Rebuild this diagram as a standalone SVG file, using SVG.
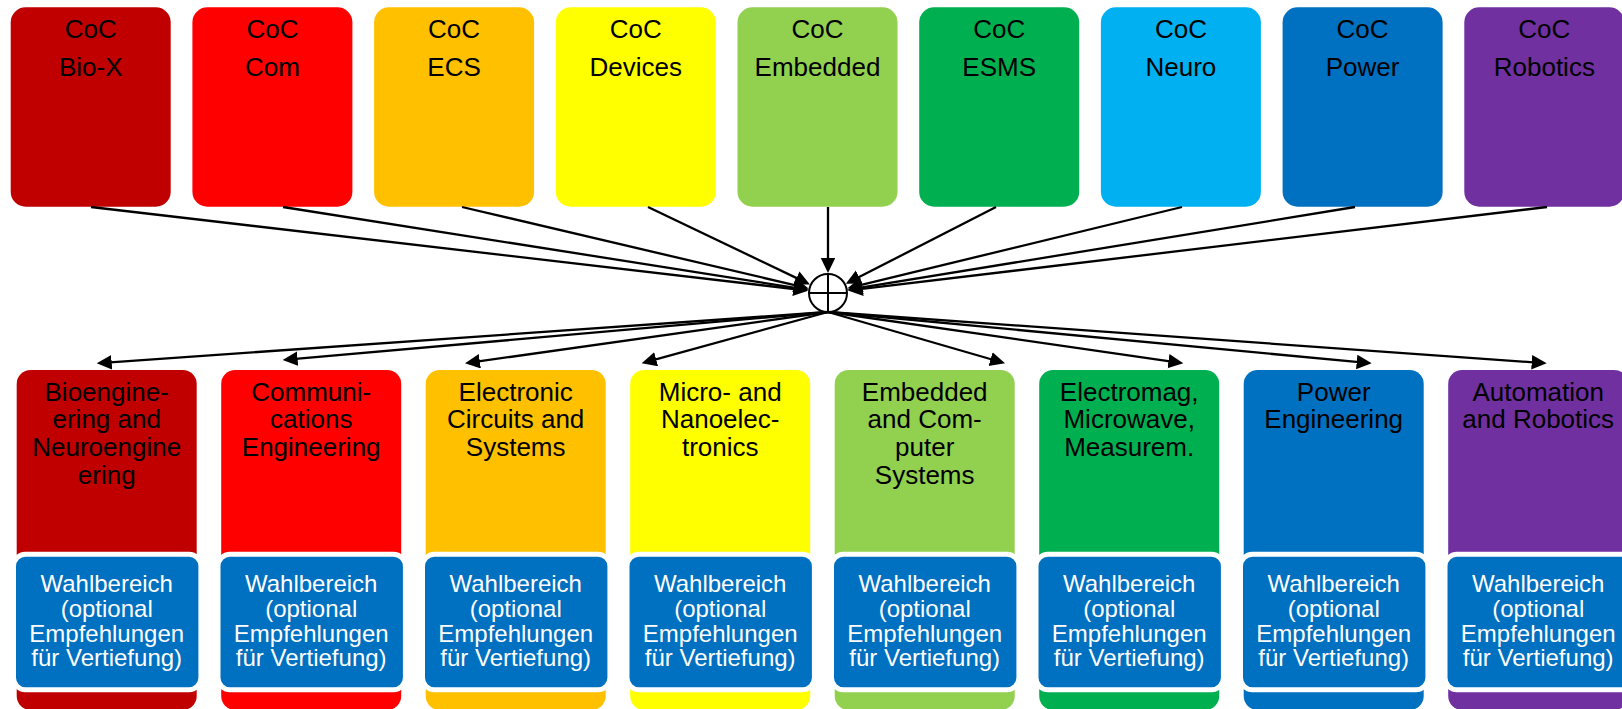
<svg xmlns="http://www.w3.org/2000/svg" width="1622" height="709" viewBox="0 0 1622 709">
<style>
.t{font-family:"Liberation Sans",Arial,sans-serif;font-size:26px;fill:#000;text-anchor:middle}
.w{font-family:"Liberation Sans",Arial,sans-serif;font-size:24px;fill:#fff;text-anchor:middle}
.c{stroke:#000;stroke-width:2.3;fill:none;marker-end:url(#ah)}
.wb{fill:#0070C0;stroke:#fff;stroke-width:5}
</style>
<defs>
<marker id="ah" markerUnits="userSpaceOnUse" markerWidth="16" markerHeight="16" refX="5" refY="7.25" orient="auto">
<path d="M0,0 L15,7.25 L0,14.5 z" fill="#000"/>
</marker>
</defs>
<rect width="1622" height="709" fill="#fff"/>

<g id="coc-biox"><rect x="10.7" y="7.3" width="160" height="199.4" rx="15" fill="#C00000"/><text class="t" x="90.7" y="38.3">CoC</text><text class="t" x="90.7" y="76">Bio-X</text></g>
<g id="coc-com"><rect x="192.4" y="7.3" width="160" height="199.4" rx="15" fill="#FF0000"/><text class="t" x="272.4" y="38.3">CoC</text><text class="t" x="272.4" y="76">Com</text></g>
<g id="coc-ecs"><rect x="374.1" y="7.3" width="160" height="199.4" rx="15" fill="#FFC000"/><text class="t" x="454.1" y="38.3">CoC</text><text class="t" x="454.1" y="76">ECS</text></g>
<g id="coc-devices"><rect x="555.8" y="7.3" width="160" height="199.4" rx="15" fill="#FFFF00"/><text class="t" x="635.8" y="38.3">CoC</text><text class="t" x="635.8" y="76">Devices</text></g>
<g id="coc-embedded"><rect x="737.5" y="7.3" width="160" height="199.4" rx="15" fill="#92D050"/><text class="t" x="817.5" y="38.3">CoC</text><text class="t" x="817.5" y="76">Embedded</text></g>
<g id="coc-esms"><rect x="919.2" y="7.3" width="160" height="199.4" rx="15" fill="#00B050"/><text class="t" x="999.2" y="38.3">CoC</text><text class="t" x="999.2" y="76">ESMS</text></g>
<g id="coc-neuro"><rect x="1100.9" y="7.3" width="160" height="199.4" rx="15" fill="#00B0F0"/><text class="t" x="1180.9" y="38.3">CoC</text><text class="t" x="1180.9" y="76">Neuro</text></g>
<g id="coc-power"><rect x="1282.6" y="7.3" width="160" height="199.4" rx="15" fill="#0070C0"/><text class="t" x="1362.6" y="38.3">CoC</text><text class="t" x="1362.6" y="76">Power</text></g>
<g id="coc-robotics"><rect x="1464.3" y="7.3" width="160" height="199.4" rx="15" fill="#7030A0"/><text class="t" x="1544.3" y="38.3">CoC</text><text class="t" x="1544.3" y="76">Robotics</text></g>

<g id="connectors">
<line class="c" x1="91" y1="207" x2="798.2" y2="289.5"/>
<line class="c" x1="283" y1="207" x2="798.4" y2="288.3"/>
<line class="c" x1="462" y1="207" x2="798.8" y2="286.1"/>
<line class="c" x1="648" y1="207" x2="800.9" y2="280.1"/>
<line class="c" x1="828" y1="207" x2="828" y2="263"/>
<line class="c" x1="996" y1="207" x2="854.7" y2="279.3"/>
<line class="c" x1="1182" y1="207" x2="857.2" y2="285.9"/>
<line class="c" x1="1355" y1="207" x2="857.6" y2="288.2"/>
<line class="c" x1="1547" y1="207" x2="857.8" y2="289.4"/>
<line class="c" x1="828" y1="312" x2="106.7" y2="362.6"/>
<line class="c" x1="828" y1="312" x2="292.6" y2="359.1"/>
<line class="c" x1="828" y1="312" x2="474.9" y2="361.9"/>
<line class="c" x1="828" y1="312" x2="651.3" y2="360.6"/>
<line class="c" x1="828" y1="312" x2="995.4" y2="360.5"/>
<line class="c" x1="828" y1="312" x2="1173.4" y2="361.9"/>
<line class="c" x1="828" y1="312" x2="1361.7" y2="362.4"/>
<line class="c" x1="828" y1="312" x2="1536.7" y2="362.6"/>
</g>

<g id="sum">
<circle cx="828" cy="293" r="19" fill="#fff" stroke="#000" stroke-width="2"/>
<line x1="828" y1="274" x2="828" y2="312" stroke="#000" stroke-width="2"/>
<line x1="809" y1="293" x2="847" y2="293" stroke="#000" stroke-width="2"/>
</g>

<g id="bioeng"><rect x="16.7" y="370" width="180" height="340" rx="14" fill="#C00000"/>
<text class="t" x="106.7" y="400.7">Bioengine-</text><text class="t" x="106.7" y="428.3">ering and</text><text class="t" x="106.7" y="456">Neuroengine</text><text class="t" x="106.7" y="483.5">ering</text>
<rect class="wb" x="13.5" y="554.2" width="187.4" height="135.6" rx="12"/>
<text class="w" x="106.7" y="591.7">Wahlbereich</text><text class="w" x="106.7" y="616.7">(optional</text><text class="w" x="106.7" y="642.3">Empfehlungen</text><text class="w" x="106.7" y="666">für Vertiefung)</text></g>

<g id="comm"><rect x="221.2" y="370" width="180" height="340" rx="14" fill="#FF0000"/>
<text class="t" x="311.2" y="400.7">Communi-</text><text class="t" x="311.2" y="428.3">cations</text><text class="t" x="311.2" y="456">Engineering</text>
<rect class="wb" x="218" y="554.2" width="187.4" height="135.6" rx="12"/>
<text class="w" x="311.2" y="591.7">Wahlbereich</text><text class="w" x="311.2" y="616.7">(optional</text><text class="w" x="311.2" y="642.3">Empfehlungen</text><text class="w" x="311.2" y="666">für Vertiefung)</text></g>

<g id="ecs"><rect x="425.7" y="370" width="180" height="340" rx="14" fill="#FFC000"/>
<text class="t" x="515.7" y="400.7">Electronic</text><text class="t" x="515.7" y="428.3">Circuits and</text><text class="t" x="515.7" y="456">Systems</text>
<rect class="wb" x="422.5" y="554.2" width="187.4" height="135.6" rx="12"/>
<text class="w" x="515.7" y="591.7">Wahlbereich</text><text class="w" x="515.7" y="616.7">(optional</text><text class="w" x="515.7" y="642.3">Empfehlungen</text><text class="w" x="515.7" y="666">für Vertiefung)</text></g>

<g id="micro"><rect x="630.2" y="370" width="180" height="340" rx="14" fill="#FFFF00"/>
<text class="t" x="720.2" y="400.7">Micro- and</text><text class="t" x="720.2" y="428.3">Nanoelec-</text><text class="t" x="720.2" y="456">tronics</text>
<rect class="wb" x="627" y="554.2" width="187.4" height="135.6" rx="12"/>
<text class="w" x="720.2" y="591.7">Wahlbereich</text><text class="w" x="720.2" y="616.7">(optional</text><text class="w" x="720.2" y="642.3">Empfehlungen</text><text class="w" x="720.2" y="666">für Vertiefung)</text></g>

<g id="embedded"><rect x="834.7" y="370" width="180" height="340" rx="14" fill="#92D050"/>
<text class="t" x="924.7" y="400.7">Embedded</text><text class="t" x="924.7" y="428.3">and Com-</text><text class="t" x="924.7" y="456">puter</text><text class="t" x="924.7" y="483.5">Systems</text>
<rect class="wb" x="831.5" y="554.2" width="187.4" height="135.6" rx="12"/>
<text class="w" x="924.7" y="591.7">Wahlbereich</text><text class="w" x="924.7" y="616.7">(optional</text><text class="w" x="924.7" y="642.3">Empfehlungen</text><text class="w" x="924.7" y="666">für Vertiefung)</text></g>

<g id="electromag"><rect x="1039.2" y="370" width="180" height="340" rx="14" fill="#00B050"/>
<text class="t" x="1129.2" y="400.7">Electromag,</text><text class="t" x="1129.2" y="428.3">Microwave,</text><text class="t" x="1129.2" y="456">Measurem.</text>
<rect class="wb" x="1036" y="554.2" width="187.4" height="135.6" rx="12"/>
<text class="w" x="1129.2" y="591.7">Wahlbereich</text><text class="w" x="1129.2" y="616.7">(optional</text><text class="w" x="1129.2" y="642.3">Empfehlungen</text><text class="w" x="1129.2" y="666">für Vertiefung)</text></g>

<g id="power"><rect x="1243.7" y="370" width="180" height="340" rx="14" fill="#0070C0"/>
<text class="t" x="1333.7" y="400.7">Power</text><text class="t" x="1333.7" y="428.3">Engineering</text>
<rect class="wb" x="1240.5" y="554.2" width="187.4" height="135.6" rx="12"/>
<text class="w" x="1333.7" y="591.7">Wahlbereich</text><text class="w" x="1333.7" y="616.7">(optional</text><text class="w" x="1333.7" y="642.3">Empfehlungen</text><text class="w" x="1333.7" y="666">für Vertiefung)</text></g>

<g id="automation"><rect x="1448.2" y="370" width="180" height="340" rx="14" fill="#7030A0"/>
<text class="t" x="1538.2" y="400.7">Automation</text><text class="t" x="1538.2" y="428.3">and Robotics</text>
<rect class="wb" x="1445" y="554.2" width="187.4" height="135.6" rx="12"/>
<text class="w" x="1538.2" y="591.7">Wahlbereich</text><text class="w" x="1538.2" y="616.7">(optional</text><text class="w" x="1538.2" y="642.3">Empfehlungen</text><text class="w" x="1538.2" y="666">für Vertiefung)</text></g>
</svg>
